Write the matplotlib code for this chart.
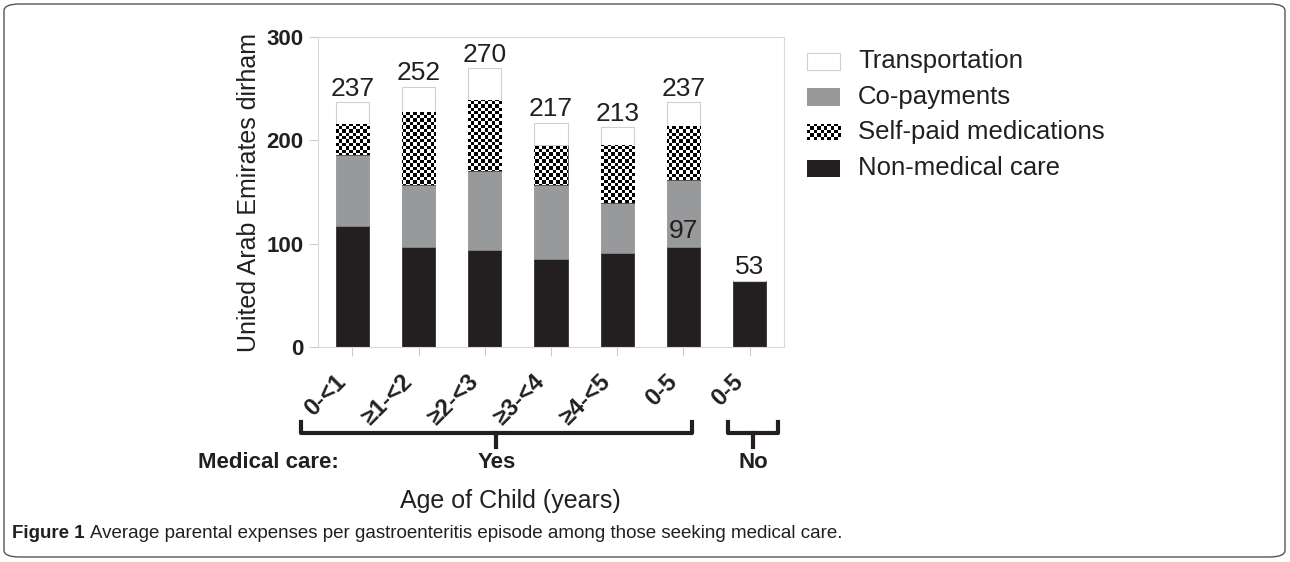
import matplotlib
matplotlib.use('Agg')
import matplotlib.pyplot as plt
import matplotlib.transforms as mtransforms
from matplotlib.patches import Rectangle, FancyBboxPatch
from matplotlib.lines import Line2D
import numpy as np

plt.rcParams['font.family'] = ['Liberation Sans', 'DejaVu Sans']

# data
age_groups = ['0-<1', '≥1-<2', '≥2-<3', '≥3-<4', '≥4-<5', '0-5', '0-5']
non_medical = [117, 97, 94, 85, 91, 97, 64]
co_payments = [69, 60, 76, 72, 48, 65, 0]
self_paid = [30, 70, 69, 38, 56, 52, 0]
transportation = [21, 25, 31, 22, 18, 23, 0]
total_labels = ['237', '252', '270', '217', '213', '237', '53']
series_names = ['Transportation', 'Co-payments', 'Self-paid medications', 'Non-medical care']

DARK = '#231f20'
GRAY = '#98999b'
EDGE = '#cfcfcf'

W, H = 1290, 562
fig = plt.figure(figsize=(W / 100, H / 100), dpi=100)


def fx(px):
    return px / W


def fy(py):
    return 1 - py / H


# main axes
ax = fig.add_axes([fx(318), fy(347), fx(784) - fx(318), fy(37) - fy(347)])
x = np.arange(len(age_groups))
xlim = (-0.52, 6.52)
ylim = (0, 300)

b1 = np.array(non_medical)
b2 = b1 + np.array(co_payments)
b3 = b2 + np.array(self_paid)
b4 = b3 + np.array(transportation)

ax.bar(x, non_medical, width=0.5, color=DARK, edgecolor=DARK, linewidth=0.5, zorder=2)
ax.bar(x, co_payments, bottom=b1, width=0.5, color=GRAY, edgecolor='#8a8b8d', linewidth=0.5, zorder=2)
sp_bars = ax.bar(x, self_paid, bottom=b2, width=0.5, color='white', edgecolor=DARK, linewidth=0.5, zorder=2)
ax.bar(x, transportation, bottom=b3, width=0.5, color='white', edgecolor=EDGE, linewidth=0.8, zorder=2)

# checkerboard fill for the self-paid medications segments
ny, nx = 91, 137
checker = (np.add.outer(np.arange(ny), np.arange(nx)) % 2).astype(float)
for bar, v in zip(sp_bars, self_paid):
    if v <= 0:
        continue
    im = ax.imshow(checker, cmap='gray', extent=(*xlim, *ylim), aspect='auto',
                   interpolation='nearest', zorder=2.5, vmin=0, vmax=1)
    im.set_clip_path(bar)

ax.set_xlim(*xlim)
ax.set_ylim(*ylim)

# value labels
for xi, top, lab in zip(x, b4, total_labels):
    ax.annotate(lab, (xi, top), xytext=(0, 1), textcoords='offset points',
                ha='center', va='bottom', fontsize=19, color=DARK, zorder=4)
ax.annotate('97', (x[5], non_medical[5]), xytext=(0, 3), textcoords='offset points',
            ha='center', va='bottom', fontsize=19, color=DARK, zorder=4)

ax.set_yticks([0, 100, 200, 300])
ax.set_yticklabels(['0', '100', '200', '300'], fontsize=16, fontweight='bold', color=DARK)
ax.set_xticks(x)
ax.set_xticklabels(age_groups, rotation=45, ha='right', va='top', rotation_mode='anchor',
                   fontsize=17, fontweight='bold', color=DARK)
ax.tick_params(axis='both', colors='#cccccc', length=6.5, width=0.8, labelcolor=DARK)
ax.tick_params(axis='y', pad=4)
ax.tick_params(axis='x', pad=10)
shift = mtransforms.ScaledTranslation(-18 / 100, 0, fig.dpi_scale_trans)
for lab in ax.get_xticklabels():
    lab.set_transform(lab.get_transform() + shift)
for s in ax.spines.values():
    s.set_color('#d9d9d9')
    s.set_linewidth(0.8)
ax.set_ylabel('United Arab Emirates dirham', fontsize=18, color=DARK, labelpad=4)

# legend drawn by hand so the checker patch can be shown
rows = [61, 97, 132, 168]
for name, py in zip(series_names, rows):
    box = [fx(807), fy(py + 8.5), fx(840) - fx(807), fy(py - 8.5) - fy(py + 8.5)]
    if name == 'Self-paid medications':
        lax = fig.add_axes(box)
        lax.imshow(checker[:5, :10], cmap='gray', aspect='auto', interpolation='nearest', vmin=0, vmax=1)
        lax.axis('off')
    else:
        r = Rectangle((box[0], box[1]), box[2], box[3], transform=fig.transFigure, zorder=3)
        if name == 'Transportation':
            r.set(facecolor='white', edgecolor=EDGE, linewidth=0.8)
        elif name == 'Co-payments':
            r.set(facecolor=GRAY, edgecolor='none')
        else:
            r.set(facecolor=DARK, edgecolor='none')
        fig.add_artist(r)
    fig.text(fx(858), fy(py), name, fontsize=18.5, color=DARK, va='center', ha='left')

# grouping brackets under the axis
lw = 3
for x0, x1, xm in [(301, 692, 496), (728, 778, 753)]:
    pts_x = [fx(x0), fx(x0), fx(x1), fx(x1)]
    pts_y = [fy(422), fy(433), fy(433), fy(422)]
    fig.add_artist(Line2D(pts_x, pts_y, color=DARK, lw=lw, solid_joinstyle='round'))
    fig.add_artist(Line2D([fx(xm), fx(xm)], [fy(433), fy(447)], color=DARK, lw=lw))

fig.text(fx(198), fy(462), 'Medical care:', fontsize=16, fontweight='bold', color=DARK, va='center', ha='left')
fig.text(fx(497), fy(462), 'Yes', fontsize=16, fontweight='bold', color=DARK, va='center', ha='center')
fig.text(fx(753), fy(462), 'No', fontsize=16, fontweight='bold', color=DARK, va='center', ha='center')
fig.text(fx(510), fy(501), 'Age of Child (years)', fontsize=18, color=DARK, va='center', ha='center')

# caption and frame
cap1 = fig.text(fx(12), fy(533), 'Figure 1', fontsize=13.5, fontweight='bold', color=DARK,
                va='center', ha='left')
fig.canvas.draw()
bb = cap1.get_window_extent()
fig.text((bb.x1 + 5) / W, fy(533),
         'Average parental expenses per gastroenteritis episode among those seeking medical care.',
         fontsize=13.5, color=DARK, va='center', ha='left')
frame = FancyBboxPatch((fx(4), fy(557)), fx(1285) - fx(4), fy(4) - fy(557),
                       boxstyle='round,pad=0,rounding_size=0.012', transform=fig.transFigure,
                       facecolor='none', edgecolor='#555555', linewidth=1.0)
fig.add_artist(frame)

fig.savefig('out.png', dpi=100)
